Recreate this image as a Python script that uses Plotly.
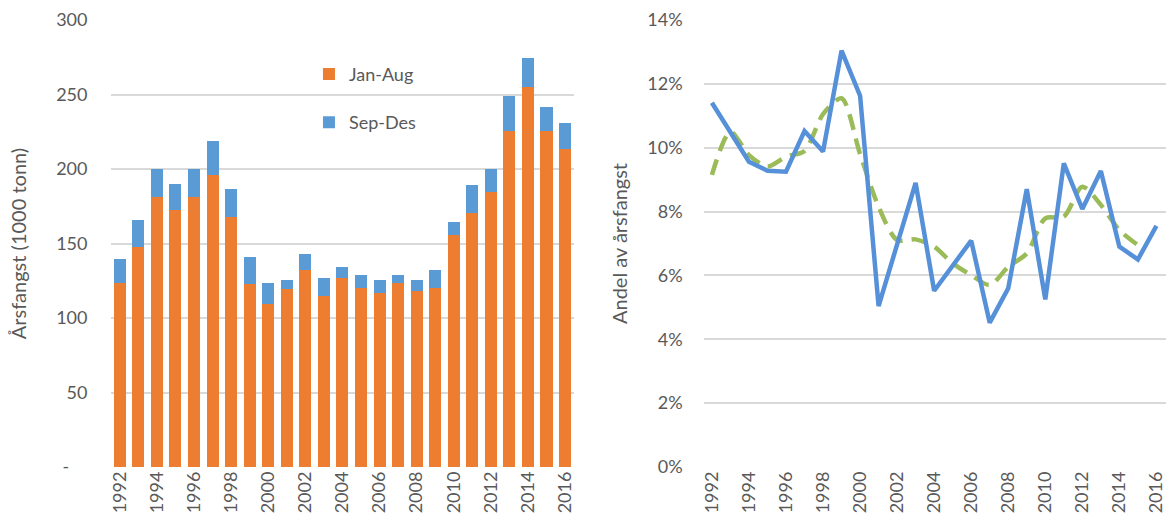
import plotly.graph_objects as go

years = list(range(1992, 2017))
jan_aug = [123.5, 147.8, 181.0, 172.5, 181.0, 196.0, 168.0, 122.8, 109.6, 119.2,
           132.2, 114.7, 127.0, 120.1, 116.6, 123.5, 118.1, 120.1, 155.7, 170.6,
           184.5, 225.5, 255.2, 225.5, 213.4]
total = [139.4, 165.5, 200.2, 189.7, 200.2, 218.5, 186.3, 140.7, 123.3, 125.3,
         142.7, 127.0, 134.0, 128.6, 125.3, 128.6, 125.3, 132.2, 164.6, 189.0,
         200.2, 249.2, 274.4, 241.4, 230.8]
sep_des = [round(t - j, 1) for t, j in zip(total, jan_aug)]

share = [11.41, 10.49, 9.56, 9.28, 9.25, 10.52, 9.88, 13.04, 11.63, 5.04,
         6.99, 8.90, 5.52, 6.30, 7.09, 4.52, 5.60, 8.70, 5.25, 9.51,
         8.08, 9.27, 6.90, 6.50, 7.55]
share_years = years
trend_years = list(range(1992, 2016))
trend = [9.15, 10.50, 9.77, 9.41, 9.72, 9.90, 11.05, 11.55, 9.80, 8.15,
         7.11, 7.13, 6.90, 6.38, 6.01, 5.70, 6.27, 6.69, 7.79, 7.84,
         8.78, 8.21, 7.42, 6.95]

left_ticks = [0, 50, 100, 150, 200, 250, 300]
left_ticktext = ["-\u00a0\u00a0\u00a0\u00a0", "50", "100", "150", "200", "250", "300"]
right_ticks = [0, 2, 4, 6, 8, 10, 12, 14]
right_ticktext = [f"{v}%" for v in right_ticks]
year_ticks = list(range(1992, 2017, 2))

FONT = "Lato"
TXT = "#595959"
GRID = "#d9d9d9"

fig = go.Figure()
fig.add_trace(go.Bar(x=years, y=jan_aug, name="Jan-Aug", marker_color="#ED7D31",
                     marker_line_width=0, xaxis="x", yaxis="y", legendgroup="a"))
fig.add_trace(go.Bar(x=years, y=sep_des, name="Sep-Des", marker_color="#5B9BD5",
                     marker_line_width=0, xaxis="x", yaxis="y", legendgroup="b"))
fig.add_trace(go.Scatter(x=trend_years, y=trend, mode="lines", showlegend=False,
                         line=dict(color="#9BBB59", width=4.5, dash="16px,9px", shape="spline", smoothing=0.8),
                         xaxis="x2", yaxis="y2"))
fig.add_trace(go.Scatter(x=share_years, y=share, mode="lines", showlegend=False,
                         line=dict(color="#5590D8", width=4.5),
                         xaxis="x2", yaxis="y2"))

axis_common = dict(showline=False, zeroline=False, ticks="",
                   tickfont=dict(family=FONT, size=18, color=TXT))

fig.update_layout(
    width=1169, height=530,
    margin=dict(l=0, r=0, t=20, b=63),
    paper_bgcolor="white", plot_bgcolor="white",
    barmode="stack", bargap=0.35,
    font=dict(family=FONT, color=TXT),
    xaxis=dict(domain=[0.0915, 0.490], range=[1991.5, 2016.5], tickvals=year_ticks,
               tickangle=-90, showgrid=False, anchor="y", **axis_common),
    yaxis=dict(domain=[0, 1], range=[0, 300], tickvals=left_ticks, ticktext=left_ticktext,
               showgrid=True, gridcolor=GRID, gridwidth=1.5, anchor="x",
               ticklabelstandoff=22,
               title=dict(text="Årsfangst (1000 tonn)", font=dict(family=FONT, size=20, color=TXT), standoff=24),
               **axis_common),
    xaxis2=dict(domain=[0.601, 0.998], range=[1991.55, 2016.5], tickvals=year_ticks,
                tickangle=-90, showgrid=False, anchor="y2", **axis_common),
    yaxis2=dict(domain=[0, 1], range=[0, 14], tickvals=right_ticks, ticktext=right_ticktext,
                showgrid=True, gridcolor=GRID, gridwidth=1.5, anchor="x2",
                ticklabelstandoff=20,
                title=dict(text="Andel av årsfangst", font=dict(family=FONT, size=20, color=TXT), standoff=14),
                **axis_common),
    legend=dict(x=0.262, y=0.92, xanchor="left", yanchor="top", traceorder="grouped",
                tracegroupgap=22, bgcolor="rgba(0,0,0,0)",
                font=dict(family=FONT, size=18, color=TXT), itemwidth=30),
)

fig.write_html("out.html", config={"displayModeBar": False},
               post_script="document.body.style.margin='0';document.body.style.overflow='hidden';window.dispatchEvent(new Event('resize'));")
